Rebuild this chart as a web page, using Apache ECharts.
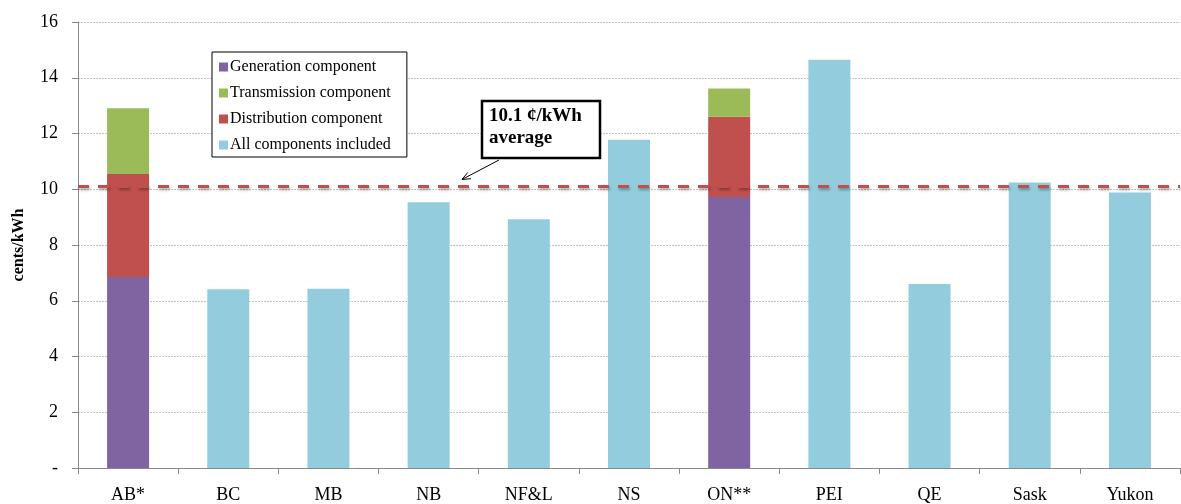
<!DOCTYPE html>
<html>
<head>
<meta charset="utf-8">
<script src="https://cdn.jsdelivr.net/npm/echarts@6/dist/echarts.min.js"></script>
<style>
  html, body { margin: 0; padding: 0; background: #fff; }
  #chart { width: 1181px; height: 504px; }
</style>
</head>
<body>
<div id="chart"></div>
<script>
// Residential electricity price by province/territory (cents/kWh)
const categories = ['AB*', 'BC', 'MB', 'NB', 'NF&L', 'NS', 'ON**', 'PEI', 'QE', 'Sask', 'Yukon'];

// Component breakdown (only AB and ON report it separately)
const generation   = [6.85, null, null, null, null, null, 9.72, null, null, null, null];
const distribution = [3.70, null, null, null, null, null, 2.88, null, null, null, null];
const transmission = [2.36, null, null, null, null, null, 1.01, null, null, null, null];

// Bundled price, all components included
const allComponents = [null, 6.41, 6.43, 9.53, 8.92, 11.78, null, 14.65, 6.60, 10.24, 9.88];

// National average
const averagePrice = 10.1;

const yTicks = [0, 2, 4, 6, 8, 10, 12, 14, 16];

const FONT = 'Liberation Serif';
const COLORS = {
  generation: '#8064A2',
  transmission: '#9BBB59',
  distribution: '#C0504D',
  all: '#93CDDD'
};

const chart = echarts.init(document.getElementById('chart'), null, { renderer: 'canvas' });

const toData = arr => arr.map(v => (v === null ? '-' : v));

const barBase = {
  type: 'bar',
  stack: 'price',
  barWidth: 42,
  emphasis: { disabled: true }
};

chart.setOption({
  animation: false,
  textStyle: { fontFamily: FONT, color: '#000' },
  grid: { left: 78, right: 1, top: 22, bottom: 36, containLabel: false, outerBoundsMode: 'none' },
  legend: {
    orient: 'vertical',
    left: 212,
    top: 52,
    itemWidth: 9,
    itemHeight: 9,
    itemGap: 10,
    padding: [7, 16, 4, 7],
    borderColor: '#000',
    borderWidth: 1,
    backgroundColor: '#fff',
    icon: 'rect',
    textStyle: { fontFamily: FONT, fontSize: 16, color: '#000', padding: [0, 0, 0, -3] },
    data: ['Generation component', 'Transmission component', 'Distribution component', 'All components included']
  },
  xAxis: {
    type: 'category',
    data: categories,
    axisLine: { lineStyle: { color: '#888', width: 1 } },
    axisTick: { show: true, length: 6, lineStyle: { color: '#888' } },
    axisLabel: { fontFamily: FONT, fontSize: 18, color: '#000', margin: 18 }
  },
  yAxis: {
    type: 'value',
    min: 0,
    max: 16,
    interval: 2,
    name: 'cents/kWh',
    nameLocation: 'middle',
    nameGap: 51,
    nameTextStyle: { fontFamily: FONT, fontSize: 16, fontWeight: 'bold', color: '#000' },
    axisLine: { show: true, lineStyle: { color: '#888', width: 1 } },
    axisTick: { show: true, length: 6, lineStyle: { color: '#888' } },
    axisLabel: {
      fontFamily: FONT, fontSize: 18, color: '#000', margin: 20,
      formatter: v => (yTicks.includes(v) ? (v === 0 ? '-' : String(v)) : '')
    },
    splitLine: { show: true, lineStyle: { color: '#c4c4c4', type: [2, 1], width: 1 } }
  },
  series: [
    Object.assign({}, barBase, {
      name: 'Generation component',
      data: toData(generation),
      itemStyle: { color: COLORS.generation }
    }),
    Object.assign({}, barBase, {
      name: 'Distribution component',
      data: toData(distribution),
      itemStyle: { color: COLORS.distribution }
    }),
    Object.assign({}, barBase, {
      name: 'Transmission component',
      data: toData(transmission),
      itemStyle: { color: COLORS.transmission }
    }),
    Object.assign({}, barBase, {
      name: 'All components included',
      data: toData(allComponents),
      itemStyle: { color: COLORS.all },
      markLine: {
        silent: true,
        symbol: ['none', 'none'],
        label: { show: false },
        emphasis: { disabled: true },
        lineStyle: {
          color: '#C0504D',
          width: 3,
          type: [11, 9],
          shadowColor: 'rgba(0,0,0,0.35)',
          shadowBlur: 3,
          shadowOffsetX: 1,
          shadowOffsetY: 2
        },
        data: [{ yAxis: averagePrice }]
      }
    })
  ]
});

// Callout box pointing at the average line
const avgY = chart.convertToPixel({ yAxisIndex: 0 }, averagePrice);
const tipX = 462, tipY = avgY - 7;
const tailX = 499, tailY = 160;
const ang = Math.atan2(tailY - tipY, tailX - tipX);
const headLen = 9, headSpread = 0.4;

chart.setOption({
  graphic: [
    {
      type: 'rect',
      shape: { x: 482, y: 101, width: 118, height: 57 },
      style: { fill: '#fff', stroke: '#000', lineWidth: 2.5 },
      z: 100
    },
    {
      type: 'text',
      x: 489,
      y: 105,
      style: {
        text: '10.1 ¢/kWh\naverage',
        font: 'bold 19px "Liberation Serif"',
        fill: '#000',
        lineHeight: 22
      },
      z: 101
    },
    {
      type: 'polyline',
      shape: { points: [[tailX, tailY], [tipX, tipY]] },
      style: { stroke: '#000', lineWidth: 1, fill: null },
      z: 101
    },
    {
      type: 'polyline',
      shape: {
        points: [
          [tipX + headLen * Math.cos(ang - headSpread), tipY + headLen * Math.sin(ang - headSpread)],
          [tipX, tipY],
          [tipX + headLen * Math.cos(ang + headSpread), tipY + headLen * Math.sin(ang + headSpread)]
        ]
      },
      style: { stroke: '#000', lineWidth: 1, fill: null },
      z: 101
    }
  ]
});
</script>
</body>
</html>
